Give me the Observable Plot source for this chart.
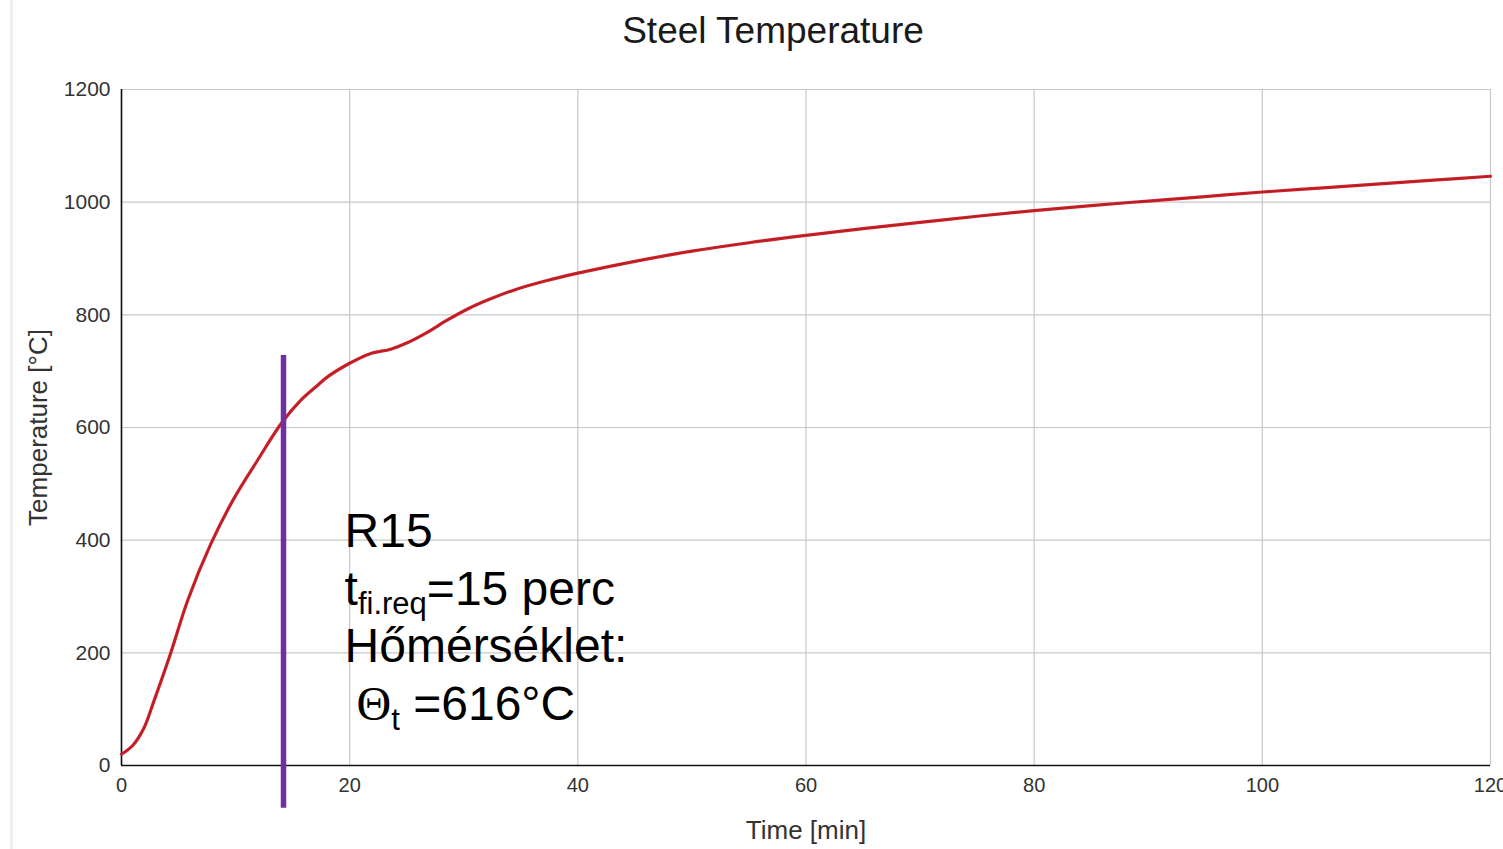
<!DOCTYPE html>
<html>
<head>
<meta charset="utf-8">
<script src="https://cdn.jsdelivr.net/npm/d3@7"></script>
<script src="https://cdn.jsdelivr.net/npm/@observablehq/plot@0.6"></script>
<style>
  html, body { margin: 0; padding: 0; background: #fff; overflow: hidden; }
  #wrap { position: relative; width: 1503px; height: 849px; }
  #chart { position: absolute; left: 0; top: 0; }
  #edge { position: absolute; left: 10px; top: 0; width: 3px; height: 849px; background: #efefef; }
  #title { position: absolute; top: 12px; left: 773px; transform: translateX(-50%);
           font: 37px "Liberation Sans", Arial, sans-serif; line-height: 37px; color: #1a1a1a; white-space: nowrap; }
</style>
</head>
<body>
<div id="wrap"><div id="chart"></div><div id="edge"></div><div id="title"></div></div>
<script>
// ---- text ----
const chartTitle = "Steel Temperature";
const xLabel = "Time [min]";
const yLabel = "Temperature [°C]";

// ---- ticks ----
const xTicks = [0, 20, 40, 60, 80, 100, 120];
const yTicks = [0, 200, 400, 600, 800, 1000, 1200];

// ---- series: steel temperature (°C) vs time (min) ----
const timeMin   = [0, 1, 2, 2.8, 4.3, 5.8, 7.8, 9.8, 11.9, 14, 15.7, 17.2, 18, 20, 21.8, 23.6, 25, 26.8, 28.5, 30.3, 32.3, 34.7, 37.3, 40, 45, 50, 55, 60, 65, 70, 75, 80, 85, 90, 95, 100, 105, 110, 115, 120];
const steelTemp = [20, 36, 68, 112, 199, 293, 392, 472, 541, 607, 648, 675, 689, 714, 731, 739, 750, 769, 790, 810, 828, 846, 861, 874, 895, 913, 928, 941, 953, 964, 975, 985, 994, 1002, 1010, 1018, 1025, 1032, 1039, 1046];

// ---- annotation ----
const markerTime = [14.2];           // purple marker as drawn
const markerSpan = [728, -76];       // temperature span of the marker (top, bottom)
const annotAnchor = [19.6, 387];     // time, temperature of first text baseline
const annotTitle = "R15";
const reqSymbol = "t", reqSub = "fi.req", reqValue = "=15 perc";
const tempLabel = "Hőmérséklet:";
const thetaSymbol = "Θ", thetaSub = "t", thetaValue = " =616°C";

const data = timeMin.map((t, i) => ({t, T: steelTemp[i]}));

document.getElementById("title").textContent = chartTitle;

function annotation(index, scales) {
  const x0 = scales.x(annotAnchor[0]);
  const y0 = scales.y(annotAnchor[1]);
  const lh = 57.7;
  const g = d3.create("svg:g")
    .attr("font-family", '"Liberation Sans", Arial, sans-serif')
    .attr("font-size", 48)
    .attr("text-anchor", "start")
    .attr("fill", "#000");
  g.append("text").attr("x", x0).attr("y", y0).text(annotTitle);
  const t2 = g.append("text").attr("x", x0).attr("y", y0 + lh);
  t2.append("tspan").text(reqSymbol);
  t2.append("tspan").attr("font-size", 31).attr("dy", 9).text(reqSub);
  t2.append("tspan").attr("dy", -9).text(reqValue);
  g.append("text").attr("x", x0).attr("y", y0 + 2 * lh).text(tempLabel);
  const t4 = g.append("text").attr("x", x0).attr("y", y0 + 3 * lh).style("white-space", "pre");
  t4.append("tspan").attr("font-family", '"Liberation Serif", "Times New Roman", serif').text(" " + thetaSymbol);
  t4.append("tspan").attr("font-size", 31).attr("dy", 10).text(thetaSub);
  t4.append("tspan").attr("dy", -10).text(thetaValue);
  return g.node();
}

const plot = Plot.plot({
  width: 1503,
  height: 849,
  marginLeft: 121,
  marginRight: 13,
  marginTop: 89,
  marginBottom: 84,
  style: {fontFamily: '"Liberation Sans", Arial, sans-serif', fontSize: "20px", color: "#333", background: "transparent", overflow: "visible"},
  x: {domain: [0, 120]},
  y: {domain: [0, 1200]},
  marks: [
    Plot.gridX(xTicks, {stroke: "#c8c8c8", strokeOpacity: 1, strokeWidth: 1.2}),
    Plot.gridY(yTicks, {stroke: "#c8c8c8", strokeOpacity: 1, strokeWidth: 1.2}),
    Plot.axisX(xTicks, {tickSize: 0, tickPadding: 12, label: null, fontSize: 20, fill: "#333", tickFormat: d => String(d)}),
    Plot.axisY(yTicks, {tickSize: 0, tickPadding: 11, label: null, fontSize: 21, fill: "#333", tickFormat: d => String(d)}),
    Plot.ruleX([0], {stroke: "#111", strokeWidth: 1.6}),
    Plot.ruleY([0], {stroke: "#111", strokeWidth: 1.6}),
    Plot.line(data, {x: "t", y: "T", curve: "catmull-rom", stroke: "#d0222a", strokeWidth: 3.2}),
    Plot.line(data, {x: "t", y: "T", curve: "catmull-rom", stroke: "#8a1a1e", strokeWidth: 1, strokeOpacity: 0.5}),
    Plot.ruleX(markerTime, {y1: markerSpan[0], y2: markerSpan[1], stroke: "#7030a0", strokeWidth: 5.5}),
    Plot.text([yLabel], {frameAnchor: "left", textAnchor: "middle", dx: -83, rotate: -90, fontSize: 26, fill: "#333"}),
    Plot.text([xLabel], {frameAnchor: "bottom", textAnchor: "middle", dy: 73, fontSize: 26, fill: "#333"}),
    annotation
  ]
});
document.getElementById("chart").appendChild(plot);
</script>
</body>
</html>
